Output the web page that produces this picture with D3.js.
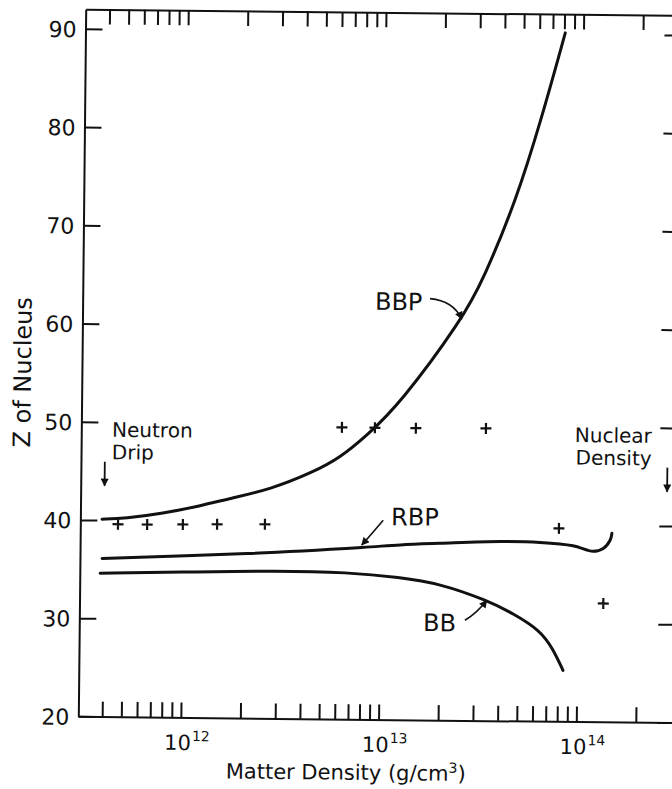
<!DOCTYPE html>
<html>
<head>
<meta charset="utf-8">
<script src="https://cdn.jsdelivr.net/npm/d3@7"></script>
<style>
  html, body { margin: 0; padding: 0; background: #fff; }
  svg { display: block; }
  text { font-family: "DejaVu Sans", "Liberation Sans", sans-serif; fill: #111; }
</style>
</head>
<body>
<svg id="chart" width="672" height="789"></svg>
<script>
// Charge number Z of the equilibrium nucleus versus matter density
// for three models (BBP, RBP, BB), with individual computed points.

// ---- axis data ----
const densityTicks = [
  4e11, 5e11, 6e11, 7e11, 8e11, 9e11,
  1e12, 2e12, 3e12, 4e12, 5e12, 6e12, 7e12, 8e12, 9e12,
  1e13, 2e13, 3e13, 4e13, 5e13, 6e13, 7e13, 8e13, 9e13,
  1e14, 2e14
];
const decadeValues = [1e12, 1e13, 1e14];
const decadeExponents = ["12", "13", "14"];
const zTicks = [20, 30, 40, 50, 60, 70, 80, 90];

// ---- curves: density (g/cm^3) and Z ----
const bbpDensity = [3.90e11, 5.09e11, 7.93e11, 1.22e12, 1.73e12, 2.75e12, 4.52e12,
                    6.18e12, 8.43e12, 1.24e13, 2.52e13, 3.20e13, 4.66e13, 6.17e13, 8.09e13];
const bbpZ       = [40.1, 40.2, 40.75, 41.55, 42.35, 43.3, 45.1,
                    46.6, 48.9, 52.2, 60.85, 64.85, 73.0, 81.2, 90.1];

const rbpDensity = [3.92e11, 2.12e12, 8.07e12, 1.26e13, 2.00e13, 4.03e13,
                    6.41e13, 9.42e13, 1.19e14, 1.34e14, 1.45e14, 1.48e14];
const rbpZ       = [36.1, 36.75, 37.5, 37.8, 38.0, 38.25,
                    38.2, 37.9, 37.35, 37.65, 38.5, 39.2];

const bbDensity  = [3.84e11, 9.70e11, 3.12e12, 6.81e12, 1.26e13, 2.01e13,
                    3.48e13, 4.72e13, 6.49e13, 7.55e13, 8.51e13];
const bbZ        = [34.6, 34.8, 35.05, 34.95, 34.5, 33.9,
                    32.25, 30.95, 29.25, 27.4, 25.2];

// ---- individual computed nuclei ----
const pointDensity = [4.7e11, 6.6e11, 1.0e12, 1.49e12, 2.6e12, 7.98e13,
                      6.3e12, 9.25e12, 1.49e13, 3.37e13, 1.35e14];
const pointZ       = [39.6, 39.6, 39.65, 39.7, 39.75, 39.65,
                      49.7, 49.7, 49.7, 49.75, 32.05];

// ---- reference densities ----
const neutronDrip = 4.0e11;
const nuclearDensity = 2.8e14;

// ---- scales ----
const x = d3.scaleLog().domain([3.03e11, 3.13e14]).range([82, 678]);
const y = d3.scaleLinear().domain([20, 92]).range([719.5, 12.3]);

const svg = d3.select("#chart");

// arrowhead
svg.append("defs").append("marker")
  .attr("id", "head")
  .attr("viewBox", "0 0 10 10")
  .attr("refX", 9).attr("refY", 5)
  .attr("markerWidth", 9).attr("markerHeight", 8)
  .attr("markerUnits", "userSpaceOnUse")
  .attr("orient", "auto")
  .append("path").attr("d", "M0,0L10,5L0,10Z").attr("fill", "#111");

// the printed sheet sits slightly tilted
const g = svg.append("g").attr("transform", "rotate(0.6 380 365)");

const ink = "#111";

// ---- axes ----
const styleAxis = sel => {
  sel.selectAll(".domain").attr("stroke", ink).attr("stroke-width", 2);
  sel.selectAll(".tick line").attr("stroke", ink).attr("stroke-width", 2);
};

g.append("g")
  .attr("transform", `translate(0,${y(20)})`)
  .call(d3.axisBottom(x).tickValues(densityTicks).tickSize(-15).tickSizeOuter(0).tickFormat(""))
  .call(styleAxis);

g.append("g")
  .attr("transform", `translate(0,${y(92)})`)
  .call(d3.axisTop(x).tickValues(densityTicks).tickSize(-15).tickSizeOuter(0).tickFormat(""))
  .call(styleAxis);

g.append("g")
  .attr("transform", `translate(${x.range()[0]},0)`)
  .call(d3.axisLeft(y).tickValues(zTicks).tickSize(-17).tickSizeOuter(0).tickPadding(9))
  .call(styleAxis)
  .call(s => s.selectAll(".tick text")
    .attr("font-size", 22)
    .attr("font-family", "DejaVu Sans, sans-serif")
    .attr("fill", ink)
    .attr("dy", "0.36em"));

g.append("g")
  .attr("transform", `translate(${x.range()[1]},0)`)
  .call(d3.axisRight(y).tickValues(zTicks).tickSize(-17).tickSizeOuter(0).tickFormat(""))
  .call(styleAxis);

// decade labels 10^n
decadeValues.forEach((v, i) => {
  const cx = x(v) - 3;
  const base = g.append("text")
    .attr("x", cx).attr("y", 752)
    .attr("text-anchor", "middle")
    .attr("font-size", 21)
    .text("10");
  const w = base.node().getComputedTextLength();
  g.append("text")
    .attr("x", cx + w / 2 + 1).attr("y", 743)
    .attr("font-size", 14)
    .text(decadeExponents[i]);
});

// axis titles
const xt = g.append("text")
  .attr("x", 350).attr("y", 780)
  .attr("text-anchor", "middle")
  .attr("font-size", 21);
xt.append("tspan").text("Matter Density (g/cm");
xt.append("tspan").attr("font-size", 14).attr("dy", -8).text("3");
xt.append("tspan").attr("dy", 8).text(")");

g.append("text")
  .attr("transform", "translate(31,376) rotate(-90)")
  .attr("text-anchor", "middle")
  .attr("font-size", 24)
  .text("Z of Nucleus");

// ---- curves ----
const lineOf = curve => d3.line()
  .x(d => x(d[0]))
  .y(d => y(d[1]))
  .curve(curve);

[
  [bbpDensity, bbpZ, d3.curveBasis],
  [rbpDensity, rbpZ, d3.curveCatmullRom.alpha(0.5)],
  [bbDensity, bbZ, d3.curveBasis]
].forEach(([ds, zs, curve]) => {
  g.append("path")
    .datum(ds.map((d, i) => [d, zs[i]]))
    .attr("d", lineOf(curve))
    .attr("fill", "none")
    .attr("stroke", ink)
    .attr("stroke-width", 3)
    .attr("stroke-linecap", "round")
    .attr("stroke-linejoin", "round");
});

// ---- computed points (+) ----
g.append("g").selectAll("path")
  .data(pointDensity.map((d, i) => [d, pointZ[i]]))
  .join("path")
  .attr("transform", d => `translate(${x(d[0])},${y(d[1])})`)
  .attr("d", "M-5.5,0H5.5M0,-5.5V5.5")
  .attr("stroke", ink)
  .attr("stroke-width", 2.2);

// ---- curve labels with pointers ----
const curveLabels = [
  { text: "BBP", at: [9.12e12, 61.7], from: [1.73e13, 62.9], via: [2.27e13, 62.7], to: [2.51e13, 60.85] },
  { text: "RBP", at: [1.13e13, 39.8], from: [1.03e13, 40.3], via: [9.29e12, 39.2], to: [8.05e12, 37.75] },
  { text: "BB",  at: [1.66e13, 29.05], from: [2.70e13, 30.2], via: [3.10e13, 30.9], to: [3.47e13, 32.25] }
];

curveLabels.forEach(c => {
  g.append("text")
    .attr("x", x(c.at[0])).attr("y", y(c.at[1]))
    .attr("font-size", 24)
    .text(c.text);
  const p = d3.path();
  p.moveTo(x(c.from[0]), y(c.from[1]));
  p.quadraticCurveTo(x(c.via[0]), y(c.via[1]), x(c.to[0]), y(c.to[1]));
  g.append("path")
    .attr("d", p.toString())
    .attr("fill", "none")
    .attr("stroke", ink)
    .attr("stroke-width", 1.6)
    .attr("marker-end", "url(#head)");
});

// ---- reference density markers ----
const refMarks = [
  { lines: ["Neutron", "Drip"], anchor: "start", at: [4.34e11, 48.5], arrow: neutronDrip },
  { lines: ["Nuclear", "Density"], anchor: "end", at: [2.33e14, 48.45], arrow: nuclearDensity }
];

refMarks.forEach(m => {
  m.lines.forEach((t, i) => {
    g.append("text")
      .attr("x", x(m.at[0])).attr("y", y(m.at[1]) + i * 22.5)
      .attr("text-anchor", m.anchor)
      .attr("font-size", 20)
      .text(t);
  });
  g.append("line")
    .attr("x1", x(m.arrow)).attr("x2", x(m.arrow))
    .attr("y1", y(45.95)).attr("y2", y(43.5))
    .attr("stroke", ink)
    .attr("stroke-width", 1.8)
    .attr("marker-end", "url(#head)");
});
</script>
</body>
</html>
